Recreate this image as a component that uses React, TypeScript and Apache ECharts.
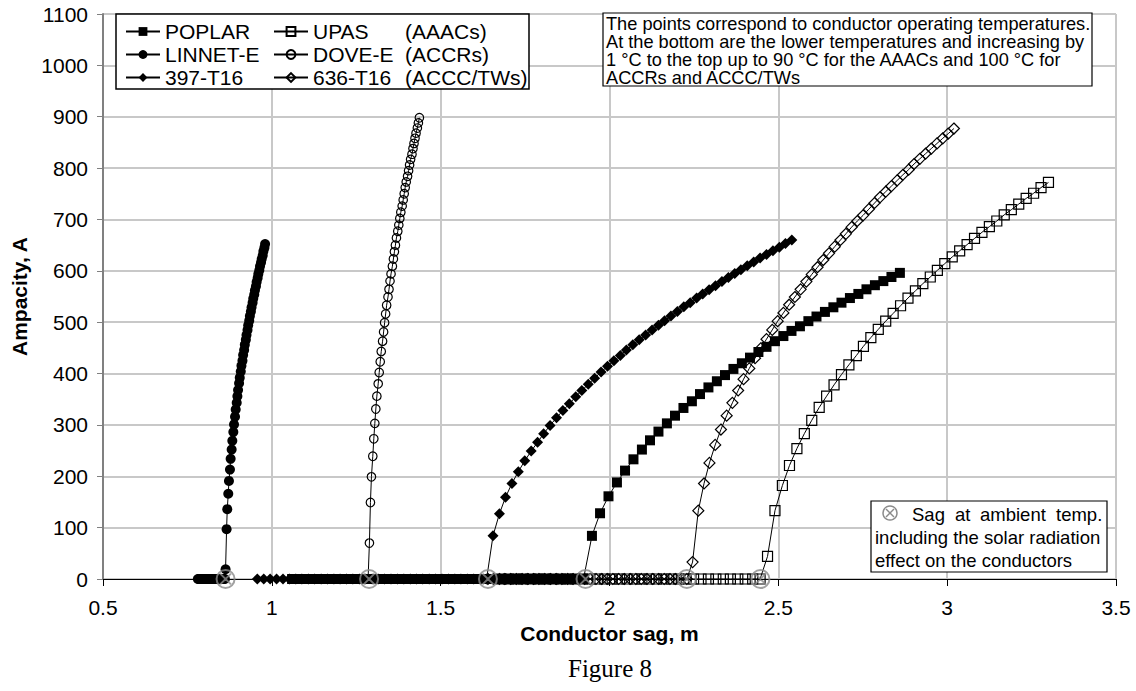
import React, { useEffect, useRef } from "react";
import * as echarts from "echarts";

// ---------- data ----------
// zero-ampacity points (temperatures below ambient), listed from the ambient point downwards
const poplarZeroX = [1.923, 1.898, 1.874, 1.849, 1.824, 1.800, 1.775, 1.750, 1.726, 1.701, 1.676, 1.652, 1.627, 1.602, 1.578, 1.553, 1.528, 1.504, 1.479, 1.454, 1.430, 1.405, 1.380, 1.356, 1.331, 1.306, 1.282, 1.257, 1.232, 1.208, 1.183, 1.158, 1.134, 1.109, 1.084, 1.060];
const poplarX = [1.948, 1.972, 1.997, 2.022, 2.046, 2.071, 2.096, 2.120, 2.145, 2.170, 2.194, 2.219, 2.244, 2.268, 2.293, 2.318, 2.342, 2.367, 2.392, 2.416, 2.441, 2.465, 2.490, 2.515, 2.539, 2.564, 2.589, 2.613, 2.638, 2.663, 2.687, 2.712, 2.737, 2.761, 2.786, 2.811, 2.835, 2.860];
const poplarY = [84, 128, 161, 188, 211, 233, 252, 270, 287, 303, 318, 333, 346, 360, 373, 385, 397, 409, 420, 431, 442, 452, 463, 473, 483, 492, 502, 511, 520, 529, 538, 547, 555, 564, 572, 580, 588, 596];

const upasZeroX = [2.446, 2.424, 2.402, 2.380, 2.358, 2.337, 2.315, 2.293, 2.271, 2.249, 2.227, 2.205, 2.183, 2.161, 2.139, 2.117, 2.096, 2.074, 2.052, 2.030, 2.008, 1.986, 1.964, 1.942, 1.920, 1.898, 1.877, 1.855, 1.833, 1.811, 1.789, 1.767, 1.745, 1.723, 1.701, 1.679];
const upasX = [2.468, 2.490, 2.512, 2.533, 2.555, 2.577, 2.599, 2.621, 2.643, 2.665, 2.687, 2.709, 2.731, 2.752, 2.774, 2.796, 2.818, 2.840, 2.862, 2.884, 2.906, 2.928, 2.950, 2.971, 2.993, 3.015, 3.037, 3.059, 3.081, 3.103, 3.125, 3.147, 3.169, 3.190, 3.212, 3.234, 3.256, 3.278, 3.300];
const upasY = [44, 133, 182, 221, 254, 283, 309, 334, 356, 378, 398, 417, 435, 453, 470, 486, 502, 517, 532, 547, 561, 575, 588, 601, 614, 627, 639, 651, 663, 675, 686, 697, 709, 719, 730, 741, 751, 762, 772];

const linnetZeroX = [0.861, 0.858, 0.856, 0.853, 0.851, 0.848, 0.846, 0.843, 0.841, 0.838, 0.836, 0.833, 0.831, 0.828, 0.826, 0.823, 0.821, 0.818, 0.816, 0.813, 0.811, 0.808, 0.806, 0.803, 0.801, 0.798, 0.796, 0.793, 0.791, 0.788, 0.786, 0.783, 0.781];
const linnetX = [0.863, 0.866, 0.868, 0.871, 0.873, 0.876, 0.878, 0.881, 0.883, 0.886, 0.888, 0.891, 0.893, 0.896, 0.898, 0.900, 0.903, 0.905, 0.908, 0.910, 0.913, 0.915, 0.918, 0.920, 0.923, 0.925, 0.928, 0.930, 0.933, 0.935, 0.938, 0.940, 0.943, 0.945, 0.948, 0.950, 0.953, 0.955, 0.958, 0.960, 0.963, 0.965, 0.968, 0.970, 0.973, 0.975, 0.978, 0.980];
const linnetY = [19, 97, 136, 166, 191, 213, 234, 252, 269, 286, 301, 316, 330, 343, 356, 368, 381, 392, 404, 415, 425, 436, 446, 456, 466, 475, 485, 494, 503, 512, 521, 529, 538, 546, 554, 562, 570, 578, 586, 594, 601, 609, 616, 623, 630, 638, 645, 652];

const doveZeroX = [1.285, 1.282, 1.279, 1.276, 1.273, 1.269, 1.266, 1.263, 1.260, 1.256, 1.253, 1.250, 1.247, 1.243, 1.240, 1.237, 1.234, 1.231, 1.227, 1.224, 1.221, 1.218, 1.214, 1.211, 1.208, 1.205, 1.202, 1.198, 1.195, 1.192, 1.189, 1.185, 1.182, 1.179, 1.176, 1.173];
const doveX = [1.289, 1.292, 1.295, 1.299, 1.302, 1.305, 1.308, 1.311, 1.315, 1.318, 1.321, 1.324, 1.328, 1.331, 1.334, 1.337, 1.340, 1.344, 1.347, 1.350, 1.353, 1.357, 1.360, 1.363, 1.366, 1.369, 1.373, 1.376, 1.379, 1.382, 1.386, 1.389, 1.392, 1.395, 1.398, 1.402, 1.405, 1.408, 1.411, 1.415, 1.418, 1.421, 1.424, 1.427, 1.431, 1.434, 1.437];
const doveY = [70, 149, 199, 239, 273, 303, 331, 356, 380, 402, 423, 443, 463, 481, 499, 516, 533, 549, 564, 580, 594, 609, 623, 637, 650, 664, 677, 689, 702, 714, 726, 738, 750, 762, 773, 784, 795, 806, 817, 827, 838, 848, 858, 868, 878, 888, 898];

const t397ZeroX = [1.636, 1.617, 1.598, 1.579, 1.560, 1.542, 1.523, 1.504, 1.485, 1.466, 1.447, 1.428, 1.410, 1.391, 1.372, 1.353, 1.334, 1.315, 1.297, 1.278, 1.259, 1.240, 1.221, 1.202, 1.184, 1.165, 1.146, 1.127, 1.108, 1.089, 1.071, 1.052, 1.033, 1.014, 0.995, 0.976, 0.957];
const t397X = [1.655, 1.674, 1.692, 1.711, 1.730, 1.749, 1.768, 1.787, 1.805, 1.824, 1.843, 1.862, 1.881, 1.900, 1.918, 1.937, 1.956, 1.975, 1.994, 2.013, 2.032, 2.050, 2.069, 2.088, 2.107, 2.126, 2.145, 2.163, 2.182, 2.201, 2.220, 2.239, 2.258, 2.276, 2.295, 2.314, 2.333, 2.352, 2.371, 2.389, 2.408, 2.427, 2.446, 2.465, 2.484, 2.503, 2.521, 2.540];
const t397Y = [84, 127, 159, 186, 209, 230, 249, 266, 283, 299, 314, 328, 341, 355, 367, 379, 391, 403, 414, 425, 435, 446, 456, 466, 475, 485, 494, 503, 512, 521, 530, 538, 547, 555, 563, 571, 579, 587, 595, 602, 610, 617, 625, 632, 639, 646, 653, 660];

const t636ZeroX = [2.229, 2.212, 2.195, 2.179, 2.162, 2.145, 2.128, 2.111, 2.094, 2.078, 2.061, 2.044, 2.027, 2.010, 1.993, 1.977, 1.960, 1.943, 1.926, 1.909, 1.892, 1.876, 1.859, 1.842, 1.825, 1.808, 1.791, 1.775, 1.758, 1.741, 1.724, 1.707, 1.690, 1.674, 1.657, 1.640];
const t636X = [2.246, 2.263, 2.280, 2.296, 2.313, 2.330, 2.347, 2.364, 2.381, 2.397, 2.414, 2.431, 2.448, 2.465, 2.482, 2.498, 2.515, 2.532, 2.549, 2.566, 2.583, 2.599, 2.616, 2.633, 2.650, 2.667, 2.684, 2.700, 2.717, 2.734, 2.751, 2.768, 2.785, 2.801, 2.818, 2.835, 2.852, 2.869, 2.886, 2.902, 2.919, 2.936, 2.953, 2.970, 2.987, 3.003, 3.020];
const t636Y = [33, 133, 186, 226, 261, 291, 318, 343, 367, 389, 410, 430, 449, 467, 485, 502, 518, 534, 549, 564, 579, 593, 607, 621, 634, 647, 660, 672, 685, 697, 708, 720, 732, 743, 754, 765, 776, 787, 797, 808, 818, 828, 838, 848, 858, 867, 877];

// sag at ambient temperature (y = 0)
const ambientX = [0.863, 1.288, 1.640, 1.929, 2.229, 2.447];

const groupLabels = ["(AAACs)", "(ACCRs)", "(ACCC/TWs)"];
const noteLines = [
  "The points correspond to conductor operating temperatures.",
  "At the bottom are the lower temperatures and increasing by",
  "1 °C to the top up to 90 °C for the AAACs and 100 °C for",
  "ACCRs and ACCC/TWs",
];

const FONT = "'Liberation Sans', Arial, Helvetica, sans-serif";
const GRID_COLOR = "#c8c8c8";
const AMB_COLOR = "#8a8a8a";

function buildSeries(
  name: string,
  zeroX: number[],
  xs: number[],
  ys: number[],
  symbol: string,
  filled: boolean,
  size: number
) {
  const zeros = zeroX.slice().reverse().map((v) => [v, 0]);
  const rising = xs.map((v, i) => [v, ys[i]]);
  return {
    type: "line",
    name,
    data: zeros.concat(rising),
    symbol,
    symbolSize: size,
    showSymbol: true,
    lineStyle: { color: "#000", width: 1 },
    itemStyle: filled
      ? { color: "#000", borderColor: "#000", borderWidth: 0 }
      : { color: "rgba(255,255,255,0)", borderColor: "#000", borderWidth: 1.2 },
    emphasis: { disabled: true },
    silent: true,
    z: 2,
  };
}

export default function App() {
  const ref = useRef<HTMLDivElement>(null);

  useEffect(() => {
    document.body.style.margin = "0";
    const chart = echarts.init(ref.current as HTMLDivElement, null, { renderer: "svg" });

    const series: any[] = [
      buildSeries("POPLAR", poplarZeroX, poplarX, poplarY, "rect", true, 10),
      buildSeries("UPAS", upasZeroX, upasX, upasY, "rect", false, 10),
      buildSeries("LINNET-E", linnetZeroX, linnetX, linnetY, "circle", true, 10),
      buildSeries("DOVE-E", doveZeroX, doveX, doveY, "circle", false, 8.5),
      buildSeries("397-T16", t397ZeroX, t397X, t397Y, "diamond", true, 11),
      buildSeries("636-T16", t636ZeroX, t636X, t636Y, "diamond", false, 11),
      {
        type: "scatter",
        name: "ambient",
        data: ambientX.map((v) => [v, 0]),
        symbol: "path://M0,-10A10,10,0,1,1,0,10A10,10,0,1,1,0,-10ZM-6,-6L6,6M6,-6L-6,6",
        symbolSize: 18,
        itemStyle: { color: "rgba(255,255,255,0)", borderColor: AMB_COLOR, borderWidth: 2 },
        emphasis: { disabled: true },
        silent: true,
        z: 10,
      },
    ];

    const legendBase = {
      orient: "vertical",
      top: 20,
      itemWidth: 34,
      itemHeight: 11,
      itemGap: 0,
      padding: 0,
      selectedMode: false,
      textStyle: { fontSize: 21, lineHeight: 23, color: "#000", fontFamily: FONT },
      z: 6,
    };

    const justifiedWords: [string, number][] = [
      ["Sag", 912],
      ["at", 955],
      ["ambient", 980],
      ["temp.", 1056],
    ];

    const option: any = {
      animation: false,
      backgroundColor: "#fff",
      grid: { left: 103, right: 20, top: 14, bottom: 112, outerBoundsMode: "none" },
      xAxis: {
        type: "value",
        min: 0.5,
        max: 3.5,
        interval: 0.5,
        name: "Conductor sag, m",
        nameLocation: "middle",
        nameGap: 44,
        nameTextStyle: { fontSize: 21, fontWeight: "bold", color: "#000", fontFamily: FONT },
        axisLine: { show: true, onZero: false, lineStyle: { color: "#000", width: 1 } },
        axisTick: { show: true, length: 7, lineStyle: { color: "#000", width: 1 } },
        axisLabel: { fontSize: 21, color: "#000", margin: 18, fontFamily: FONT, formatter: (v: number) => String(v) },
        splitLine: { show: true, lineStyle: { color: GRID_COLOR, width: 2 } },
      },
      yAxis: {
        type: "value",
        min: 0,
        max: 1100,
        interval: 100,
        name: "Ampacity, A",
        nameLocation: "middle",
        nameGap: 67,
        nameTextStyle: { fontSize: 21, fontWeight: "bold", color: "#000", fontFamily: FONT },
        axisLine: { show: true, lineStyle: { color: "#808080", width: 2 } },
        axisTick: { show: true, length: 6, lineStyle: { color: "#808080", width: 1 } },
        axisLabel: { fontSize: 21, color: "#000", margin: 15, fontFamily: FONT, formatter: (v: number) => String(v) },
        splitLine: { show: true, lineStyle: { color: GRID_COLOR, width: 2 } },
      },
      legend: [
        { ...legendBase, left: 125, data: ["POPLAR", "LINNET-E", "397-T16"] },
        { ...legendBase, left: 273, data: ["UPAS", "DOVE-E", "636-T16"] },
      ],
      graphic: [
        {
          type: "rect",
          shape: { x: 116, y: 14, width: 413, height: 75 },
          style: { fill: "#fff", stroke: "#000", lineWidth: 1.5 },
          z: 3,
        },
        ...groupLabels.map((t, i) => ({
          type: "text",
          x: 405,
          y: 31.5 + i * 23,
          style: { text: t, fontSize: 21, fontFamily: FONT, fill: "#000", verticalAlign: "middle" },
          z: 6,
        })),
        {
          type: "rect",
          shape: { x: 603, y: 13, width: 489, height: 73 },
          style: { fill: "#fff", stroke: "#000", lineWidth: 1.2 },
          z: 3,
        },
        ...noteLines.map((t, i) => ({
          type: "text",
          x: 606,
          y: 23.5 + i * 18,
          style: { text: t, fontSize: 18.2, fontFamily: FONT, fill: "#000", verticalAlign: "middle" },
          z: 6,
        })),
        {
          type: "rect",
          shape: { x: 871, y: 501, width: 236, height: 71 },
          style: { fill: "#fff", stroke: "#000", lineWidth: 1.2 },
          z: 3,
        },
        {
          type: "circle",
          shape: { cx: 890, cy: 513, r: 7 },
          style: { fill: "none", stroke: AMB_COLOR, lineWidth: 1.5 },
          z: 6,
        },
        {
          type: "line",
          shape: { x1: 886, y1: 509, x2: 894, y2: 517 },
          style: { stroke: AMB_COLOR, lineWidth: 1.5 },
          z: 6,
        },
        {
          type: "line",
          shape: { x1: 894, y1: 509, x2: 886, y2: 517 },
          style: { stroke: AMB_COLOR, lineWidth: 1.5 },
          z: 6,
        },
        ...justifiedWords.map(([t, x]) => ({
          type: "text",
          x,
          y: 514,
          style: { text: t, fontSize: 18.5, fontFamily: FONT, fill: "#000", verticalAlign: "middle" },
          z: 6,
        })),
        {
          type: "text",
          x: 875,
          y: 537,
          style: { text: "including the solar radiation", fontSize: 18.5, fontFamily: FONT, fill: "#000", verticalAlign: "middle" },
          z: 6,
        },
        {
          type: "text",
          x: 875,
          y: 560,
          style: { text: "effect on the conductors", fontSize: 18.5, fontFamily: FONT, fill: "#000", verticalAlign: "middle" },
          z: 6,
        },
        {
          type: "text",
          x: 610,
          y: 668,
          style: {
            text: "Figure 8",
            fontSize: 25,
            fontFamily: "'Liberation Serif', 'Times New Roman', serif",
            fill: "#000",
            align: "center",
            verticalAlign: "middle",
          },
          z: 6,
        },
      ],
      series,
    };

    chart.setOption(option);
    return () => chart.dispose();
  }, []);

  return <div ref={ref} style={{ width: 1136, height: 691 }} />;
}
